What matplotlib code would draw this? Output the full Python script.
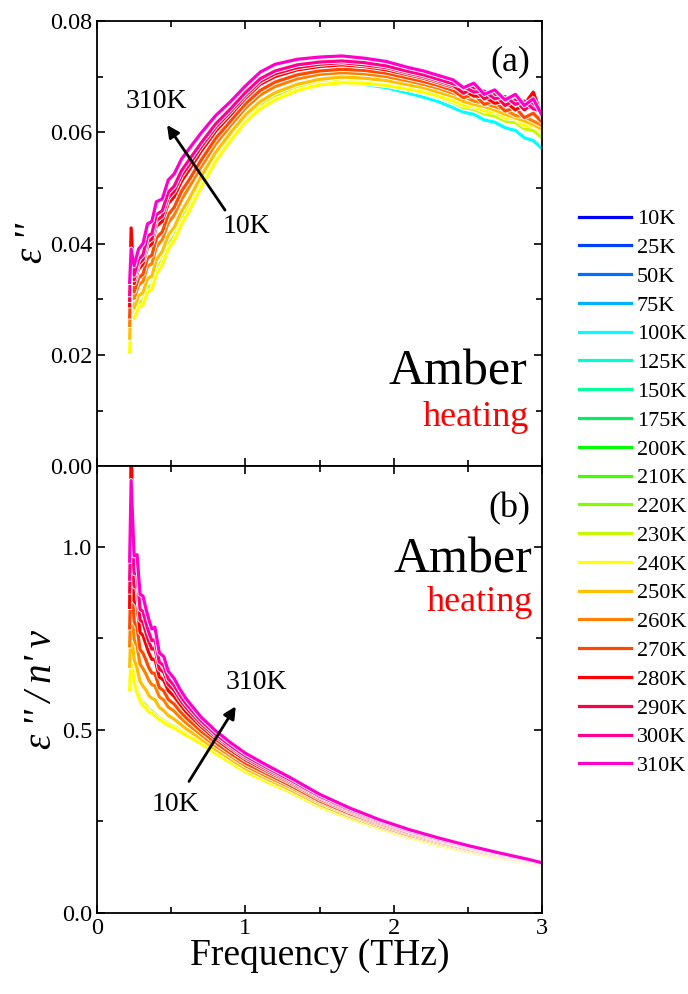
import matplotlib
matplotlib.use('Agg')
import matplotlib.pyplot as plt
import matplotlib.patheffects as pe
from matplotlib.ticker import MultipleLocator

plt.rcParams['font.family'] = ['Liberation Serif', 'DejaVu Serif']

temps = ['10K', '25K', '50K', '75K', '100K', '125K', '150K', '175K', '200K', '210K',
         '220K', '230K', '240K', '250K', '260K', '270K', '280K', '290K', '300K', '310K']
colors = ['#0000FF', '#0040FF', '#0070FF', '#00B0FF', '#00FFFF', '#00FFCC', '#00FF99', '#00F060',
          '#00FF00', '#40FF00', '#80FF00', '#C8F800', '#FFFF00', '#FFC000', '#FF8000', '#FF4800',
          '#FF0000', '#FF0048', '#FF0090', '#FF00CC']

# (a) eps'' vs frequency (THz)
freq_a = [0.22, 0.23, 0.25, 0.28, 0.31, 0.34, 0.37, 0.40, 0.44, 0.48, 0.52, 0.57, 0.62, 0.70,
          0.80, 0.90, 1.00, 1.10, 1.20, 1.35, 1.50, 1.65, 1.80, 1.95, 2.10, 2.20, 2.30, 2.40,
          2.47, 2.54, 2.61, 2.68, 2.75, 2.82, 2.88, 2.94, 3.00]
a_blue = [.0208, .0276, .0269, .0290, .0295, .0316, .0322, .0349, .0366, .0394, .0409, .0439, .0462, .0504,
          .0551, .0589, .0621, .0645, .0661, .0677, .0687, .0689, .0686, .0680, .0670, .0663, .0655, .0644,
          .0636, .0632, .0622, .0618, .0608, .0603, .0590, .0585, .0570]
a_green = [.0210, .0280, .0272, .0293, .0298, .0320, .0326, .0353, .0370, .0398, .0413, .0443, .0466, .0507,
           .0555, .0592, .0625, .0648, .0664, .0680, .0689, .0692, .0690, .0685, .0677, .0671, .0663, .0653,
           .0644, .0641, .0633, .0629, .0620, .0617, .0606, .0603, .0590]
a_240 = [.0205, .0270, .0265, .0285, .0290, .0312, .0318, .0345, .0362, .0390, .0405, .0435, .0458, .0500,
         .0548, .0585, .0618, .0642, .0658, .0675, .0685, .0689, .0688, .0684, .0677, .0672, .0665, .0656,
         .0648, .0646, .0638, .0636, .0626, .0624, .0612, .0612, .0600]
a_250 = [.0230, .0300, .0284, .0306, .0312, .0337, .0342, .0371, .0386, .0415, .0429, .0458, .0480, .0520,
         .0564, .0599, .0631, .0655, .0671, .0686, .0695, .0699, .0697, .0693, .0685, .0680, .0672, .0664,
         .0655, .0650, .0646, .0640, .0632, .0626, .0620, .0614, .0605]
a_260 = [.0253, .0325, .0301, .0325, .0332, .0359, .0364, .0394, .0407, .0437, .0451, .0479, .0501, .0537,
         .0579, .0612, .0643, .0667, .0682, .0696, .0704, .0707, .0705, .0700, .0692, .0686, .0679, .0670,
         .0664, .0656, .0652, .0646, .0640, .0630, .0628, .0620, .0612]
a_270 = [.0268, .0345, .0313, .0338, .0345, .0374, .0379, .0410, .0421, .0452, .0465, .0494, .0514, .0549,
         .0589, .0620, .0651, .0675, .0690, .0703, .0710, .0713, .0711, .0706, .0697, .0691, .0684, .0675,
         .0662, .0668, .0650, .0656, .0638, .0644, .0626, .0634, .0618]
a_280 = [.0288, .0428, .0328, .0354, .0363, .0393, .0399, .0431, .0440, .0472, .0484, .0512, .0532, .0565,
         .0602, .0631, .0661, .0686, .0700, .0712, .0718, .0721, .0718, .0712, .0703, .0697, .0689, .0681,
         .0675, .0665, .0664, .0652, .0655, .0640, .0650, .0672, .0628]
a_290 = [.0298, .0375, .0335, .0363, .0371, .0403, .0408, .0441, .0449, .0482, .0494, .0522, .0541, .0573,
         .0609, .0637, .0666, .0691, .0705, .0716, .0722, .0725, .0721, .0716, .0706, .0700, .0692, .0684,
         .0670, .0680, .0660, .0668, .0648, .0658, .0640, .0652, .0634]
a_300 = [.0308, .0385, .0343, .0371, .0380, .0413, .0418, .0452, .0459, .0492, .0503, .0531, .0550, .0580,
         .0615, .0642, .0671, .0696, .0710, .0721, .0726, .0728, .0725, .0719, .0709, .0703, .0695, .0687,
         .0682, .0672, .0674, .0660, .0664, .0650, .0656, .0642, .0638]
a_310 = [.0330, .0390, .0360, .0390, .0400, .0435, .0440, .0475, .0480, .0514, .0525, .0552, .0570, .0598,
         .0630, .0655, .0683, .0708, .0722, .0731, .0735, .0737, .0733, .0727, .0716, .0710, .0702, .0694,
         .0680, .0688, .0668, .0676, .0658, .0668, .0648, .0660, .0630]

# (b) eps''/(n' nu) vs frequency (THz)
freq_b = [0.22, 0.23, 0.25, 0.27, 0.29, 0.31, 0.33, 0.35, 0.37, 0.39, 0.42, 0.45, 0.48, 0.52, 0.56,
          0.60, 0.65, 0.70, 0.80, 0.90, 1.00, 1.15, 1.30, 1.50, 1.70, 1.90, 2.10, 2.30, 2.50, 2.70,
          2.90, 3.00]
b_blue = [.615, .710, .635, .605, .584, .569, .563, .551, .548, .541, .530, .522, .514, .507, .497,
          .487, .475, .463, .436, .410, .385, .356, .329, .289, .257, .229, .204, .183, .164, .148,
          .133, .124]
b_green = [.620, .720, .640, .610, .588, .573, .567, .555, .551, .544, .533, .525, .517, .509, .499,
           .489, .477, .465, .438, .412, .387, .358, .331, .291, .259, .231, .206, .185, .166, .150,
           .135, .126]
b_240 = [.610, .700, .630, .600, .580, .565, .560, .548, .545, .538, .528, .520, .512, .505, .495,
         .485, .474, .462, .435, .410, .385, .357, .330, .290, .259, .231, .206, .185, .167, .151,
         .136, .127]
b_250 = [.673, .780, .692, .668, .632, .619, .609, .593, .586, .582, .561, .552, .539, .529, .516,
         .503, .489, .475, .446, .420, .394, .365, .337, .296, .264, .235, .210, .189, .170, .154,
         .138, .129]
b_260 = [.729, .860, .747, .729, .679, .667, .652, .634, .623, .620, .590, .581, .562, .551, .534,
         .519, .503, .487, .456, .429, .402, .372, .344, .302, .269, .239, .213, .192, .173, .156,
         .140, .130]
b_270 = [.778, .930, .796, .781, .719, .709, .690, .669, .655, .654, .615, .606, .583, .570, .550,
         .533, .515, .497, .465, .436, .409, .379, .349, .306, .272, .243, .217, .195, .175, .158,
         .141, .132]
b_280 = [.834, 1.30, .851, .842, .766, .757, .733, .709, .692, .693, .644, .635, .607, .591, .569,
         .549, .529, .509, .475, .445, .418, .386, .356, .312, .277, .246, .220, .198, .178, .160,
         .143, .133]
b_290 = [.876, 1.02, .892, .887, .800, .793, .765, .740, .720, .722, .666, .657, .624, .608, .582,
         .561, .539, .517, .482, .452, .424, .391, .360, .316, .280, .249, .223, .200, .180, .162,
         .144, .135]
b_300 = [.911, 1.08, .927, .925, .829, .823, .792, .765, .743, .746, .685, .675, .639, .621, .594,
         .571, .548, .525, .488, .457, .429, .396, .364, .319, .283, .252, .225, .202, .182, .163,
         .145, .136]
b_310 = [.960, 1.18, .975, .978, .870, .865, .830, .800, .775, .780, .710, .700, .660, .640, .610,
         .585, .560, .535, .497, .465, .436, .402, .370, .324, .287, .255, .228, .205, .184, .165,
         .147, .137]

curves_a = [a_blue] * 5 + [a_green] * 7 + [a_240, a_250, a_260, a_270, a_280, a_290, a_300, a_310]
curves_b = [b_blue] * 5 + [b_green] * 7 + [b_240, b_250, b_260, b_270, b_280, b_290, b_300, b_310]

fig = plt.figure(figsize=(6.88, 9.94), dpi=100)
ax1 = fig.add_axes([0.141, 0.531, 0.647, 0.448])
ax2 = fig.add_axes([0.141, 0.0815, 0.647, 0.4497])

edge = [pe.Stroke(linewidth=3.6, foreground='white'), pe.Normal()]
for T, c, ya, yb in zip(temps, colors, curves_a, curves_b):
    ax1.plot(freq_a, ya, color=c, lw=2.3, label=T, path_effects=edge)
    ax2.plot(freq_b, yb, color=c, lw=2.3, path_effects=edge)

for ax in (ax1, ax2):
    ax.set_xlim(0, 3)
    ax.xaxis.set_major_locator(MultipleLocator(1))
    ax.xaxis.set_minor_locator(MultipleLocator(0.5))
    ax.tick_params(which='both', direction='in', top=True, right=True, width=1.2)
    ax.tick_params(which='major', length=6, labelsize=17.5)
    ax.tick_params(which='minor', length=4)
    for s in ax.spines.values():
        s.set_linewidth(1.3)

ax1.set_ylim(0, 0.08)
ax1.yaxis.set_major_locator(MultipleLocator(0.02))
ax1.yaxis.set_minor_locator(MultipleLocator(0.01))
ax1.yaxis.set_major_formatter(plt.FormatStrFormatter('%.2f'))
ax1.tick_params(axis='x', labelbottom=False)
ax1.set_ylabel("ε\u2009''", fontsize=28, style='italic', labelpad=-1)

ax2.set_ylim(0, 1.22)
ax2.yaxis.set_major_locator(MultipleLocator(0.5))
ax2.yaxis.set_minor_locator(MultipleLocator(0.25))
ax2.yaxis.set_major_formatter(plt.FormatStrFormatter('%.1f'))
ax2.set_ylabel("ε\u2009''\u2009/\u2009n'\u2009ν", fontsize=28, style='italic', labelpad=1)
ax2.set_xlabel('Frequency (THz)', fontsize=27, labelpad=0)

arrow = dict(arrowstyle='-|>', color='black', lw=2, mutation_scale=18, shrinkA=0, shrinkB=0)
ax1.annotate('', xy=(0.472, 0.0613), xytext=(0.863, 0.046), arrowprops=arrow)
ax1.text(0.398, 0.0656, '310K', fontsize=20, ha='center', va='center')
ax1.text(1.008, 0.0430, '10K', fontsize=20, ha='center', va='center')
ax1.text(2.785, 0.0726, '(a)', fontsize=26, ha='center', va='center')
ax1.text(2.90, 0.0146, 'Amber', fontsize=36, ha='right', va='baseline')
ax1.text(2.91, 0.0072, 'heating', fontsize=26, ha='right', va='baseline', color='#FF0000')

ax2.annotate('', xy=(0.935, 0.564), xytext=(0.62, 0.359), arrowprops=arrow)
ax2.text(1.075, 0.628, '310K', fontsize=20, ha='center', va='center')
ax2.text(0.526, 0.295, '10K', fontsize=20, ha='center', va='center')
ax2.text(2.78, 1.102, '(b)', fontsize=26, ha='center', va='center')
ax2.text(2.93, 0.929, 'Amber', fontsize=36, ha='right', va='baseline')
ax2.text(2.94, 0.823, 'heating', fontsize=26, ha='right', va='baseline', color='#FF0000')

fig.legend(*ax1.get_legend_handles_labels(), loc='upper left', bbox_to_anchor=(0.841, 0.790),
           frameon=False, fontsize=16, handlelength=2.35, handletextpad=0.27,
           labelspacing=0.37, borderpad=0, borderaxespad=0)

fig.savefig('out.png', dpi=100)
